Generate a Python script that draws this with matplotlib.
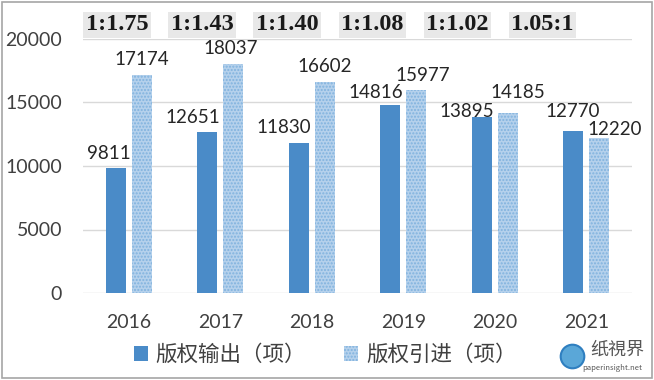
import matplotlib
matplotlib.use('Agg')
import matplotlib.pyplot as plt
from matplotlib.lines import Line2D
import numpy as np

plt.rcParams['font.family'] = ['Noto Sans CJK SC', 'DejaVu Sans']

years = ['2016', '2017', '2018', '2019', '2020', '2021']
output_vals = [9811, 12651, 11830, 14816, 13895, 12770]
import_vals = [17174, 18037, 16602, 15977, 14185, 12220]
ratios = ['1:1.75', '1:1.43', '1:1.40', '1:1.08', '1:1.02', '1.05:1']
legend_labels = ['版权输出（项）', '版权引进（项）']

# hand-placed label nudges (pixels), as in the original
out_dx = [-7, -14, -15, -14, -15, 0]
out_dy = [9, 9, 10, 7, 0, 14]
imp_dx = [0, -3, 0, 6, 10, 15]
imp_dy = [10, 10, 10, 9, 15, 3]

fig = plt.figure(figsize=(6.54, 3.8), dpi=100)
ax = fig.add_axes([83 / 654, 1 - 293 / 380, (632 - 83) / 654, (293 - 39) / 380])

x = np.arange(len(years))
w = 0.22
off = 0.143
b1 = ax.bar(x - off, output_vals, w, color='#4a8bc8', label=legend_labels[0], zorder=3)
b2 = ax.bar(x + off, import_vals, w, color='#b5d1ec', edgecolor='#80b2de', linewidth=0,
            hatch='.....', label=legend_labels[1], zorder=3)

for bars, dxs, dys in ((b1, out_dx, out_dy), (b2, imp_dx, imp_dy)):
    for r, dx, dy in zip(bars, dxs, dys):
        ax.annotate(f'{int(r.get_height())}', (r.get_x() + r.get_width() / 2, r.get_height()),
                    xytext=(dx, dy), textcoords='offset pixels', ha='center', va='baseline',
                    fontsize=13.5, family='Lato', color='#262626', zorder=4)

# ratio labels across the top
for i, t in enumerate(ratios):
    ax.text(i * 0.93 - 0.13, 21120, t, ha='center', va='center', fontsize=17.5,
            fontweight='bold', family='Liberation Serif', color='#1a1a1a',
            bbox=dict(boxstyle='square,pad=0.1', facecolor='#e8e8e8', edgecolor='none'))

ax.set_xlim(-0.5, 5.5)
ax.set_ylim(0, 20000)
ax.set_yticks([0, 5000, 10000, 15000, 20000])
ax.set_xticks(x)
ax.set_xticklabels(years)
ax.tick_params(axis='both', length=0, labelsize=14, colors='#404040')
for lab in ax.get_xticklabels() + ax.get_yticklabels():
    lab.set_family('Lato')
ax.tick_params(axis='y', pad=15)
ax.tick_params(axis='x', pad=15)
ax.grid(axis='y', color='#d9d9d9', linewidth=1, zorder=0)
for s in ax.spines.values():
    s.set_visible(False)

fig.legend(handles=[b1, b2], loc='center', bbox_to_anchor=(325 / 654, 1 - 355 / 380),
           ncol=2, frameon=False, fontsize=15.5, handlelength=0.65, handleheight=0.65,
           handletextpad=0.35, columnspacing=1.8, labelcolor='#404040')

# watermark
fig.text(617 / 654, 1 - 350 / 380, '纸視界', ha='center', va='center', fontsize=13, color='#555555')
fig.text(612 / 654, 1 - 368 / 380, 'paperinsight.net', ha='center', va='center', fontsize=5.5, color='#555555')
fig.add_artist(Line2D([572 / 654], [1 - 356 / 380], transform=fig.transFigure, marker='o',
                      markersize=17, markerfacecolor='#5aa7d8', markeredgecolor='#2f7fc0',
                      markeredgewidth=1.5, linestyle='none'))

# outer border
fig.patches.append(plt.Rectangle((0.003, 0.004), 0.994, 0.99, transform=fig.transFigure,
                                 fill=False, edgecolor='#a6a6a6', linewidth=1.2))

fig.savefig('out.png', dpi=100)
